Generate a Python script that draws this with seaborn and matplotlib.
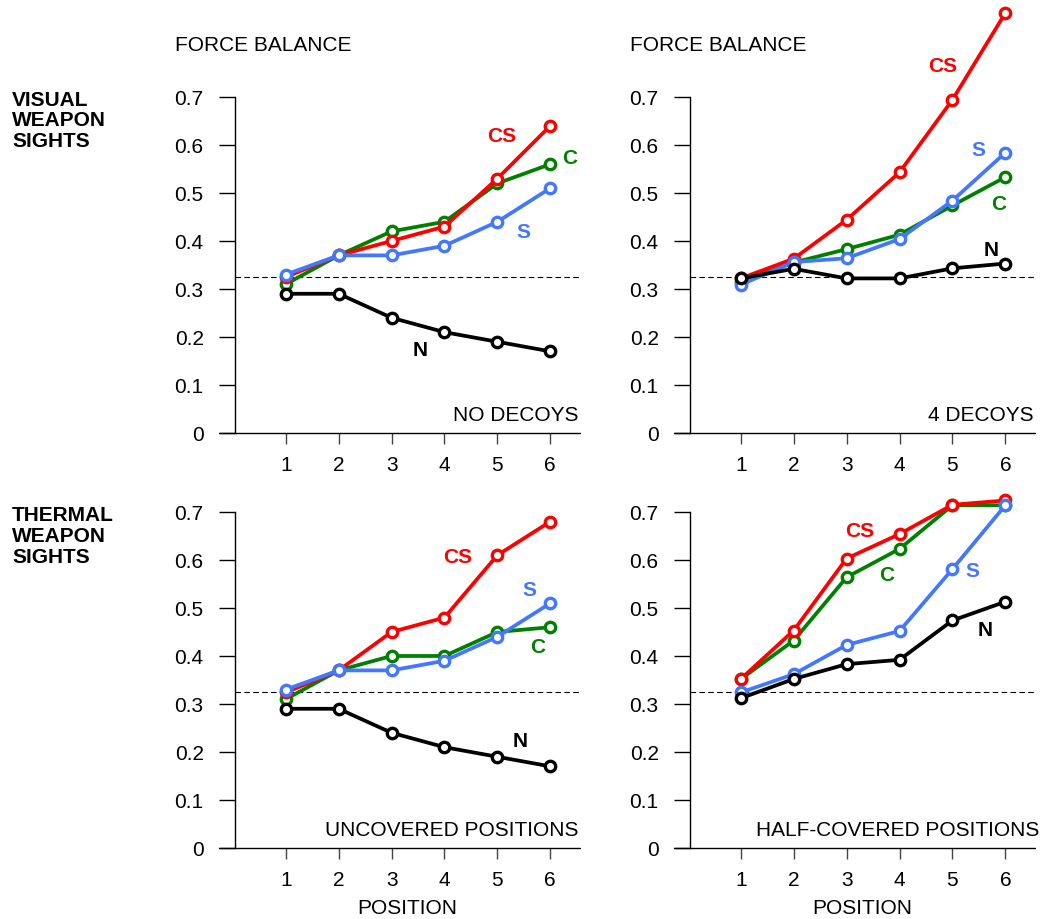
import pandas as pd
import seaborn as sns
import matplotlib.pyplot as plt

# positions along the approach
positions = [1, 2, 3, 4, 5, 6]
series_names = ["C", "CS", "S", "N"]

# visual sights, no decoys
vis_nodec_c = [0.31, 0.37, 0.42, 0.44, 0.52, 0.56]
vis_nodec_cs = [0.325, 0.37, 0.40, 0.43, 0.53, 0.64]
vis_nodec_s = [0.33, 0.37, 0.37, 0.39, 0.44, 0.51]
vis_nodec_n = [0.29, 0.29, 0.24, 0.21, 0.19, 0.17]

# visual sights, 4 decoys
vis_dec_c = [0.315, 0.355, 0.383, 0.413, 0.474, 0.533]
vis_dec_cs = [0.322, 0.363, 0.444, 0.543, 0.694, 0.875]
vis_dec_s = [0.309, 0.356, 0.364, 0.404, 0.484, 0.584]
vis_dec_n = [0.322, 0.342, 0.322, 0.322, 0.343, 0.353]

# thermal sights, uncovered positions
th_unc_c = [0.31, 0.37, 0.40, 0.40, 0.45, 0.46]
th_unc_cs = [0.324, 0.37, 0.45, 0.48, 0.61, 0.68]
th_unc_s = [0.33, 0.37, 0.37, 0.39, 0.44, 0.51]
th_unc_n = [0.29, 0.29, 0.24, 0.21, 0.19, 0.17]

# thermal sights, half-covered positions
th_half_c = [0.352, 0.432, 0.564, 0.623, 0.714, 0.714]
th_half_cs = [0.352, 0.453, 0.603, 0.654, 0.715, 0.724]
th_half_s = [0.324, 0.362, 0.423, 0.452, 0.581, 0.714]
th_half_n = [0.312, 0.352, 0.383, 0.392, 0.474, 0.513]

balance_line = 0.325
yticks = [0, 0.1, 0.2, 0.3, 0.4, 0.5, 0.6, 0.7]

colors = {"C": "#008000", "CS": "#ff0000", "S": "#4477ff", "N": "#000000"}

sns.set_style("white")
plt.rcParams["font.family"] = ["Liberation Sans", "DejaVu Sans"]
plt.rcParams["text.color"] = "black"
plt.rcParams["axes.labelcolor"] = "black"
plt.rcParams["xtick.color"] = "black"
plt.rcParams["ytick.color"] = "black"

FS = 15

fig = plt.figure(figsize=(10.41, 9.2), dpi=100)

panels = [
    # (rect, data, condition text, x of that text, label positions, title?, xlabel?)
    ([0.2257, 0.5283, 0.3314, 0.3652],
     [vis_nodec_c, vis_nodec_cs, vis_nodec_s, vis_nodec_n], "NO DECOYS", 0.995,
     {"CS": (5.08, 0.619), "C": (6.37, 0.574), "S": (5.49, 0.42), "N": (3.54, 0.174)},
     True, False),
    ([0.6628, 0.5283, 0.3314, 0.3652],
     [vis_dec_c, vis_dec_cs, vis_dec_s, vis_dec_n], "4 DECOYS", 0.995,
     {"CS": (4.81, 0.765), "C": (5.88, 0.479), "S": (5.5, 0.59), "N": (5.73, 0.382)},
     True, False),
    ([0.2257, 0.0772, 0.3314, 0.3652],
     [th_unc_c, th_unc_cs, th_unc_s, th_unc_n], "UNCOVERED POSITIONS", 0.995,
     {"CS": (4.25, 0.608), "C": (5.77, 0.42), "S": (5.6, 0.5375), "N": (5.43, 0.224)},
     False, True),
    ([0.6628, 0.0772, 0.3314, 0.3652],
     [th_half_c, th_half_cs, th_half_s, th_half_n], "HALF-COVERED POSITIONS", 1.012,
     {"CS": (3.245, 0.661), "C": (3.76, 0.569), "S": (5.38, 0.578), "N": (5.62, 0.456)},
     False, True),
]

for rect, values, cond, cond_x, label_pos, show_title, show_xlabel in panels:
    ax = fig.add_axes(rect)
    df = pd.DataFrame({
        "position": positions * 4,
        "value": [v for s in values for v in s],
        "series": [n for n in series_names for _ in positions],
    })
    sns.lineplot(data=df, x="position", y="value", hue="series",
                 hue_order=series_names, palette=colors, marker="o",
                 markersize=7.5, markerfacecolor="white", markeredgewidth=2.4,
                 linewidth=2.7, legend=False, clip_on=False, ax=ax, zorder=3)
    # marker rings in the line colour
    for line in ax.get_lines():
        line.set_markeredgecolor(line.get_color())

    ax.axhline(balance_line, color="black", lw=0.8, ls=(0, (5, 3)), zorder=1)

    ax.set_xlim(0.04, 6.56)
    ax.set_ylim(0, 0.7)
    ax.set_xticks(positions)
    ax.set_yticks(yticks)
    ax.set_yticklabels(["0"] + [f"{t:.1f}" for t in yticks[1:]])
    ax.tick_params(axis="y", length=11.5, width=1, pad=11, labelsize=FS,
                   color="black", left=True)
    ax.tick_params(axis="x", length=8, width=1, pad=8, labelsize=FS,
                   color="#444444", bottom=True)
    for side in ["top", "right", "bottom"]:
        ax.spines[side].set_visible(False)
    ax.spines["left"].set_color("black")
    ax.spines["left"].set_linewidth(1)
    # x axis line reaching under the y tick marks
    ax.plot([-0.046, 1.0], [0, 0], transform=ax.transAxes, color="black",
            lw=1, clip_on=False)

    ax.set_ylabel("")
    if show_xlabel:
        ax.set_xlabel("POSITION", fontsize=FS, labelpad=6)
    else:
        ax.set_xlabel("")
    if show_title:
        ax.text(-0.175, 1.155, "FORCE BALANCE", transform=ax.transAxes,
                fontsize=FS, ha="left", va="center")

    ax.text(cond_x, 0.055, cond, transform=ax.transAxes, fontsize=FS,
            ha="right", va="center")

    for name, (lx, ly) in label_pos.items():
        ax.text(lx, ly, name, color=colors[name], fontsize=FS,
                fontweight="bold", ha="center", va="center")

fig.text(0.0115, 0.8685, "VISUAL\nWEAPON\nSIGHTS", fontsize=FS,
         fontweight="bold", ha="left", va="center", linespacing=1.12)
fig.text(0.0115, 0.4171, "THERMAL\nWEAPON\nSIGHTS", fontsize=FS,
         fontweight="bold", ha="left", va="center", linespacing=1.12)

fig.savefig("out.png", dpi=100)
